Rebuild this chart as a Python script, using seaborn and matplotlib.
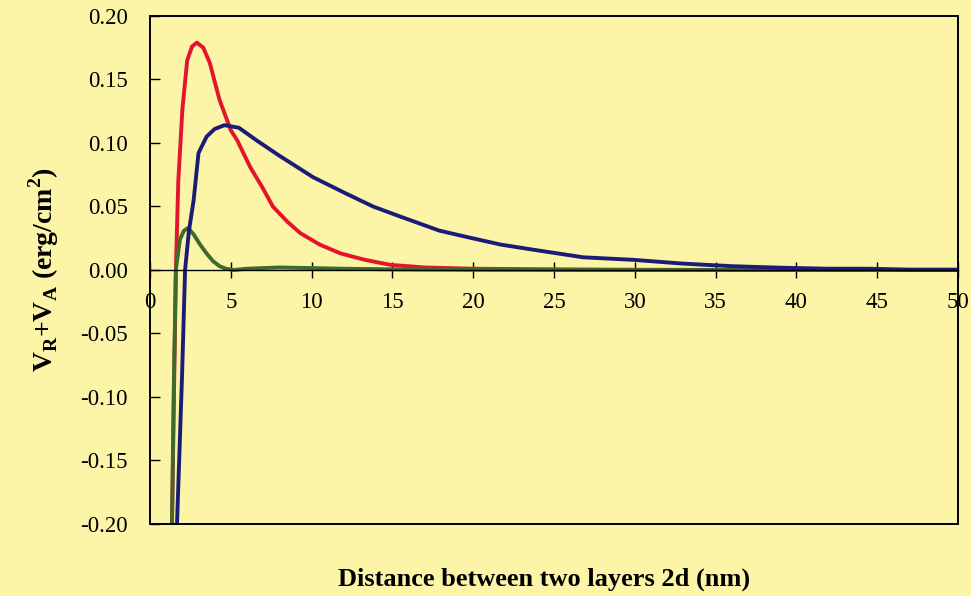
import numpy as np
import pandas as pd
import seaborn as sns
import matplotlib.pyplot as plt
from matplotlib.patches import Rectangle

# values (x in nm, y in erg/cm^2)
red_x = [1.36, 1.48, 1.60, 1.75, 2.0, 2.3, 2.6, 2.9, 3.3, 3.7, 4.3, 5.0, 5.4, 6.2, 7.0,
         7.6, 8.5, 9.3, 10.5, 11.8, 13.3, 14.9, 17, 20, 25, 30, 40, 50]
red_y = [-0.20, -0.10, 0.0, 0.07, 0.126, 0.165, 0.176, 0.179, 0.175, 0.163, 0.134, 0.110,
         0.102, 0.081, 0.064, 0.050, 0.038, 0.029, 0.020, 0.013, 0.008, 0.004, 0.002, 0.001,
         0.0005, 0.0002, 0.0, 0.0]

blue_x = [1.67, 1.98, 2.17, 2.4, 2.7, 3.0, 3.5, 4.0, 4.6, 5.5, 6.6, 8.0, 10.1, 12.0, 13.8,
          15.5, 17.9, 19.6, 21.7, 23.7, 26.8, 29.9, 33, 36, 39, 42, 44.4, 47, 50]
blue_y = [-0.20, -0.084, 0.0, 0.030, 0.055, 0.092, 0.105, 0.111, 0.114, 0.112, 0.102, 0.090,
          0.073, 0.061, 0.050, 0.042, 0.031, 0.026, 0.020, 0.016, 0.010, 0.008, 0.005, 0.003,
          0.0018, 0.001, 0.001, 0.0003, 0.0003]

green_x = [1.36, 1.46, 1.6, 1.85, 2.1, 2.35, 2.7, 3.1, 3.5, 3.9, 4.3, 4.7, 5.2, 6, 8, 10,
           12, 15, 20, 30, 50]
green_y = [-0.20, -0.10, 0.0, 0.024, 0.031, 0.033, 0.028, 0.020, 0.013, 0.007, 0.003, 0.001,
           0.0, 0.001, 0.002, 0.0015, 0.001, 0.0005, 0.0002, 0.0, 0.0]

x_ticks = [0, 5, 10, 15, 20, 25, 30, 35, 40, 45, 50]
y_ticks = [-0.20, -0.15, -0.10, -0.05, 0.00, 0.05, 0.10, 0.15, 0.20]

bg = "#FCF5A8"
sns.set_style("ticks")
plt.rcParams["font.family"] = ["Liberation Serif", "DejaVu Serif"]
plt.rcParams["text.color"] = "black"
plt.rcParams["axes.labelcolor"] = "black"
plt.rcParams["xtick.color"] = "black"
plt.rcParams["ytick.color"] = "black"

fig = plt.figure(figsize=(9.71, 5.96), dpi=100, facecolor=bg)
ax = fig.add_axes([0.1545, 0.1208, 0.8321, 0.8524])
ax.set_facecolor(bg)

for xs, ys, col in [(red_x, red_y, "#E3142B"), (green_x, green_y, "#3E6B2C"),
                    (blue_x, blue_y, "#1C1C78")]:
    df = pd.DataFrame({"x": xs, "y": ys})
    sns.lineplot(data=df, x="x", y="y", ax=ax, color=col, lw=2.8,
                 sort=False, estimator=None)

ax.set_xlim(0, 50)
ax.set_ylim(-0.20, 0.20)
ax.set_xticks(x_ticks)
ax.set_yticks(y_ticks)
ax.set_xticklabels([str(t) for t in x_ticks])
ax.set_yticklabels([f"{t:.2f}" for t in y_ticks])

# x axis sits on the zero line, box drawn separately
ax.spines["bottom"].set_position(("data", 0))
ax.spines["bottom"].set_linewidth(1.0)
ax.spines["bottom"].set_color("black")
for s in ["top", "right", "left"]:
    ax.spines[s].set_visible(False)
ax.add_patch(Rectangle((0, 0), 1, 1, transform=ax.transAxes, fill=False,
                       ec="black", lw=1.4, clip_on=False, zorder=5))

ax.tick_params(axis="x", direction="inout", length=12, width=1.0, labelsize=16.5, pad=10)
ax.tick_params(axis="y", direction="in", length=7, width=1.0, labelsize=16.5, pad=16)

ax.set_xlabel("")
ax.set_ylabel(r"V$_\mathregular{R}$+V$_\mathregular{A}$ (erg/cm$^\mathregular{2}$)",
              fontsize=20, fontweight="bold", labelpad=14)
fig.text(0.56, 0.018, "Distance between two layers 2d (nm)", ha="center",
         fontsize=19, fontweight="bold")

fig.savefig("out.png", dpi=100, facecolor=bg)
